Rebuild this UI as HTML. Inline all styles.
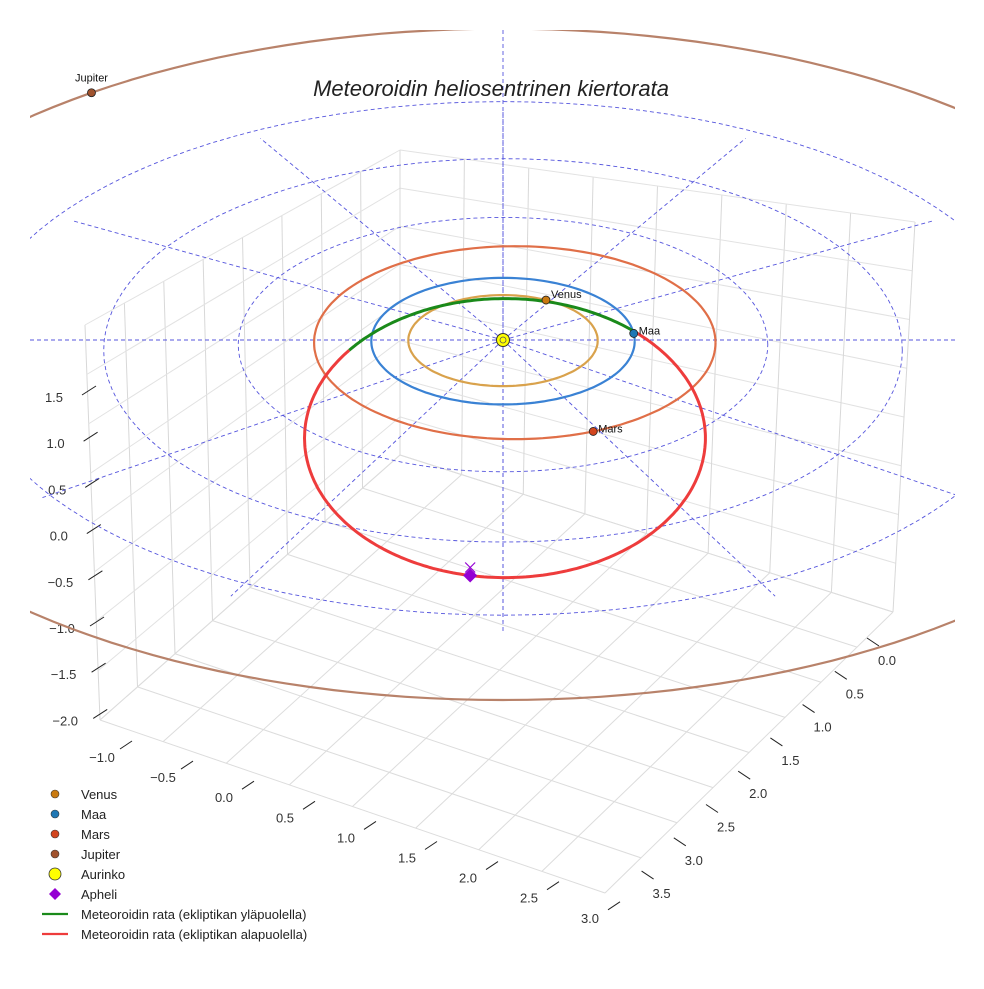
<!DOCTYPE html>
<html><head><meta charset="utf-8"><style>
body{margin:0;background:#fff;}
svg text{font-family:"Liberation Sans",sans-serif;}
</style></head><body>
<svg id="chart" width="984" height="984" viewBox="0 0 984 984" xmlns="http://www.w3.org/2000/svg">
<defs><clipPath id="ax"><rect x="30" y="30" width="925" height="940"/></clipPath></defs>
<rect width="984" height="984" fill="#fff"/>
<g id="grid"></g>
<g id="ticks"></g>
<g id="plot" clip-path="url(#ax)"></g>
<text x="491" y="96" text-anchor="middle" font-size="22" font-style="italic" fill="#222">Meteoroidin heliosentrinen kiertorata</text>
<g id="legend"></g>
</svg>
<script>
const NS="http://www.w3.org/2000/svg";
// ---- data ----
const zTicks=["1.5","1.0","0.5","0.0","−0.5","−1.0","−1.5","−2.0"];
const xTicks=["−1.0","−0.5","0.0","0.5","1.0","1.5","2.0","2.5","3.0"];
const yTicks=["0.0","0.5","1.0","1.5","2.0","2.5","3.0","3.5"];
const planetNames=["Venus","Maa","Mars","Jupiter"];
const orbitRadii=[0.72,1.0,1.52,5.2];
const orbitOffsetX=[0,0,0.09,0];
const planetAngles=[63,7,-67,126];
const orbitColors=["#d9a24c","#3a82d4","#e06f48","#b8826a"];
const planetColors=["#c97a10","#1f77b4","#d2451e","#a0522d"];
const refCircles=[2,3,4];
const refRayAngles=[0,30,60,90,120,150,180,210,240,270,300,330];
const meteorA=1.53, meteorB=2.18, meteorCx=0.015, meteorCz=-0.9;
const apheliAngle=-100;
// ---- projection ----
const CX=503,CY=340;
function sx(r){return 131+0.7*r;}
function sy(r){return 63+0.3*r;}
function shift(r){const q=Math.min(r,4.6);return 1.15*q*q;}
function pt(r,ang,ox,noShift){const a=ang*Math.PI/180;return [CX+(ox||0)*131+sx(r)*r*Math.cos(a), CY+(noShift?0:shift(r))-sy(r)*r*Math.sin(a)];}
function mk(tag,attrs,parent){const e=document.createElementNS(NS,tag);for(const k in attrs)e.setAttribute(k,attrs[k]);parent.appendChild(e);return e;}
const grid=document.getElementById('grid'),plot=document.getElementById('plot'),ticks=document.getElementById('ticks'),leg=document.getElementById('legend');
// ---- 3D box grid ----
const PL=[100,720],B=[400,455],PR=[893,612],P0=[605,893],TL=[85,325],TB=[400,150],TR=[915,222];
function lerp(a,b,t){return [a[0]+(b[0]-a[0])*t,a[1]+(b[1]-a[1])*t];}
function line(a,b,col,w,p,name){const l=mk('line',{x1:a[0],y1:a[1],x2:b[0],y2:b[1],stroke:col,'stroke-width':w},p);return l;}
for(let i=0;i<=8;i++){const t=i/8;
 line(lerp(PL,B,t),lerp(TL,TB,t),"#d8d8d8",1,grid,'left-wall-gridline');
 line(lerp(B,PR,t),lerp(TB,TR,t),"#d8d8d8",1,grid,'right-wall-gridline');
 line(lerp(PL,TL,t),lerp(B,TB,t),"#e2e2e2",1,grid,'left-wall-hline');
 line(lerp(B,TB,t),lerp(PR,TR,t),"#e2e2e2",1,grid,'right-wall-hline');
 line(lerp(PL,P0,t),lerp(B,PR,t),"#dcdcdc",1,grid,'floor-gridline');
 line(lerp(PL,B,t),lerp(P0,PR,t),"#dcdcdc",1,grid,'floor-gridline');}
zTicks.forEach((s,i)=>{const y=397+i*46.2;const x=58+i*1.6;
 line([x+24,y-2],[x+38,y-11],"#222",1,ticks,'z-tick');
 const t=mk('text',{x:x-4,y:y+5,'font-size':13,fill:'#333','text-anchor':'middle'},ticks);t.textContent=s;
 });
xTicks.forEach((s,i)=>{const x=102+i*61,y=757+i*20.1;
 line([x+18,y-8],[x+30,y-16],"#222",1,ticks,'x-tick');
 const t=mk('text',{x:x,y:y+5,'font-size':13,fill:'#333','text-anchor':'middle'},ticks);t.textContent=s;
 });
yTicks.forEach((s,i)=>{const x=887-i*32.2,y=660+i*33.3;
 line([x-20,y-22],[x-8,y-14],"#222",1,ticks,'y-tick');
 const t=mk('text',{x:x,y:y+5,'font-size':13,fill:'#333','text-anchor':'middle'},ticks);t.textContent=s;
 });
// ---- reference dashed circles and rays ----
function pathFrom(pts){return 'M'+pts.map(p=>p[0].toFixed(1)+','+p[1].toFixed(1)).join('L');}
refCircles.forEach(r=>{const pts=[];for(let a=0;a<=360;a+=3)pts.push(pt(r,a));
 const p=mk('path',{d:pathFrom(pts),fill:'none',stroke:'#5555dd','stroke-width':0.9,'stroke-dasharray':'4,3'},plot);
 });
refRayAngles.forEach(a=>{const rr=3.85-0.25*Math.sin(a*Math.PI/180);const e=pt(rr,a,0,true);const p=mk('line',{x1:CX,y1:CY,x2:e[0],y2:e[1]+(a>180?30:0),stroke:'#5555dd','stroke-width':0.9,'stroke-dasharray':'4,3'},plot);
 });
line([CX,30],[CX,CY],"#5555dd",0.9,plot,'vertical-axis-line').setAttribute('stroke-dasharray','4,3');
line([CX,CY],[CX,622],"#5555dd",0.9,plot,'vertical-axis-line').setAttribute('stroke-dasharray','4,3');
// ---- planet orbits ----
planetNames.forEach((n,i)=>{const r=orbitRadii[i],pts=[];for(let a=0;a<=360;a+=2)pts.push(pt(r,a,orbitOffsetX[i]));
 const p=mk('path',{d:pathFrom(pts),fill:'none',stroke:orbitColors[i],'stroke-width':2.2},plot);
 });
// ---- meteoroid orbit ----
function mpt(a){const t=a*Math.PI/180;return [CX+meteorCx*131+meteorA*131*Math.cos(t), CY+(-meteorCz)*109 - meteorB*64*Math.sin(t)];}
const redPts=[];for(let a=141;a<=410;a+=1)redPts.push(mpt(a));
let rp=mk('path',{d:pathFrom(redPts),fill:'none',stroke:'#ee3c3c','stroke-width':3},plot);

const gPts=[];for(let a=50;a<=141;a+=1)gPts.push(mpt(a));
let gp=mk('path',{d:pathFrom(gPts),fill:'none',stroke:'#1a8a1a','stroke-width':3},plot);

// ---- planets ----
planetNames.forEach((n,i)=>{const p=pt(orbitRadii[i],planetAngles[i],orbitOffsetX[i]);
 const c=mk('circle',{cx:p[0],cy:p[1],r:4,fill:planetColors[i],stroke:'#222','stroke-width':0.8},plot);
 
 const t=mk('text',{x:p[0]+(n==='Jupiter'?0:5),y:p[1]+(n==='Jupiter'?-11:(n==='Venus'?-2:1)),'font-size':11,fill:'#111','text-anchor':n==='Jupiter'?'middle':'start'},plot);
 t.textContent=n;});
let sun=mk('circle',{cx:CX,cy:CY,r:6.5,fill:'#ffff00',stroke:'#333','stroke-width':1},plot);

mk('circle',{cx:CX,cy:CY,r:3,fill:'none',stroke:'#555','stroke-width':0.8},plot);
const ap=mpt(apheliAngle);
let dm=mk('path',{d:`M${ap[0]},${ap[1]-7}L${ap[0]+7},${ap[1]}L${ap[0]},${ap[1]+7}L${ap[0]-7},${ap[1]}Z`,fill:'#9400d3'},plot);

line([ap[0]-5,ap[1]-13],[ap[0]+5,ap[1]-3],'#9400d3',1.2,plot,'apheli-x');
line([ap[0]+5,ap[1]-13],[ap[0]-5,ap[1]-3],'#9400d3',1.2,plot,'apheli-x');
// ---- legend ----
const legLabels=["Venus","Maa","Mars","Jupiter","Aurinko","Apheli","Meteoroidin rata (ekliptikan yläpuolella)","Meteoroidin rata (ekliptikan alapuolella)"];
legLabels.forEach((s,i)=>{const y=794+i*20;
 if(i<4){const c=mk('circle',{cx:55,cy:y,r:4,fill:planetColors[i],stroke:'#333','stroke-width':0.6},leg);}
 else if(i===4){const c=mk('circle',{cx:55,cy:y,r:6,fill:'#ffff00',stroke:'#333','stroke-width':0.8},leg);}
 else if(i===5){const c=mk('path',{d:`M55,${y-6}L61,${y}L55,${y+6}L49,${y}Z`,fill:'#9400d3'},leg);}
 else line([42,y],[68,y],i===6?'#1a8a1a':'#ee3c3c',2.2,leg,'legend-line');
 const t=mk('text',{x:81,y:y+5,'font-size':13,fill:'#222'},leg);t.textContent=s;
 });
</script>
</body></html>
